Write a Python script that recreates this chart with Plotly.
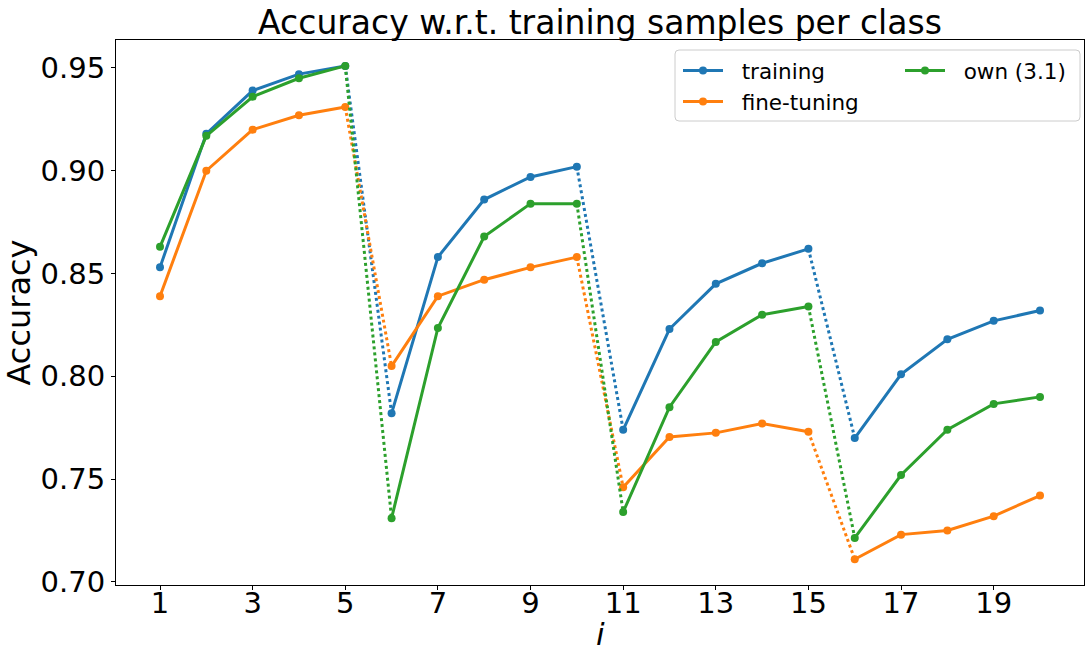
import plotly.graph_objects as go

x_vals = list(range(1, 21))
training = [0.853, 0.918, 0.939, 0.947, 0.951,
            0.782, 0.858, 0.886, 0.897, 0.902,
            0.774, 0.823, 0.845, 0.855, 0.862,
            0.770, 0.801, 0.818, 0.827, 0.832]
fine_tuning = [0.839, 0.900, 0.920, 0.927, 0.931,
               0.805, 0.839, 0.847, 0.853, 0.858,
               0.746, 0.7705, 0.7725, 0.777, 0.773,
               0.711, 0.723, 0.725, 0.732, 0.742]
own = [0.863, 0.917, 0.936, 0.945, 0.951,
       0.731, 0.8235, 0.868, 0.884, 0.884,
       0.734, 0.785, 0.8167, 0.830, 0.834,
       0.7214, 0.752, 0.774, 0.7866, 0.790]

series = [("training", training, "#1f77b4", "legend"),
          ("fine-tuning", fine_tuning, "#ff7f0e", "legend"),
          ("own (3.1)", own, "#2ca02c", "legend2")]
seg = 5
font = "DejaVu Sans, Liberation Sans, sans-serif"
nb = "\u00a0\u00a0"

fig = go.Figure()
for name, vals, color, lg in series:
    for s in range(0, len(x_vals), seg):
        fig.add_trace(go.Scatter(
            x=x_vals[s:s + seg], y=vals[s:s + seg], mode="lines+markers",
            line=dict(color=color, width=3), marker=dict(color=color, size=8),
            name=nb + name, legendgroup=name, showlegend=(s == 0), legend=lg))
for name, vals, color, lg in series:
    for s in range(seg, len(x_vals), seg):
        fig.add_trace(go.Scatter(
            x=x_vals[s - 1:s + 1], y=vals[s - 1:s + 1], mode="lines",
            line=dict(color=color, width=3, dash="dot"),
            name=name, legendgroup=name, showlegend=False, legend=lg))

W, H = 1086, 650
L, R, T, B = 116, 2, 40, 65
pw, ph = W - L - R, H - T - B
def px(xp):
    return (xp - L) / pw
def py(yp):
    return 1 - (yp - T) / ph

# rounded legend frame
x0, x1, y0, y1, r = px(675), px(1080), py(121), py(50), 4
rx, ry = r / pw, r / ph
path = (f"M{x0+rx},{y1} L{x1-rx},{y1} Q{x1},{y1} {x1},{y1-ry} "
        f"L{x1},{y0+ry} Q{x1},{y0} {x1-rx},{y0} L{x0+rx},{y0} "
        f"Q{x0},{y0} {x0},{y0+ry} L{x0},{y1-ry} Q{x0},{y1} {x0+rx},{y1} Z")
fig.add_shape(type="path", xref="paper", yref="paper", path=path,
              line=dict(color="#cccccc", width=1), fillcolor="rgba(255,255,255,0.8)",
              layer="above")

legend_common = dict(font=dict(family=font, size=21.5, color="black"),
                     bgcolor="rgba(0,0,0,0)", borderwidth=0,
                     xref="paper", yref="paper", xanchor="left", yanchor="top",
                     tracegroupgap=0, itemwidth=40)

fig.add_annotation(text="<i>i</i>", xref="paper", yref="paper",
                   x=0.5, y=py(634), xanchor="center", yanchor="middle",
                   showarrow=False, font=dict(family=font, size=31, color="black"))

fig.update_layout(
    width=W, height=H,
    margin=dict(l=L, r=R, t=T, b=B, autoexpand=False),
    paper_bgcolor="white", plot_bgcolor="white",
    font=dict(family=font, color="black"),
    title=dict(text="Accuracy w.r.t. training samples per class",
               x=0.5, xref="paper", xanchor="center",
               y=1 - 22 / H, yref="container", yanchor="middle",
               font=dict(family=font, size=33, color="black")),
    showlegend=True,
    legend=dict(x=px(678), y=py(50), **legend_common),
    legend2=dict(x=px(900), y=py(50), **legend_common),
    xaxis=dict(range=[0.05, 20.95], tickmode="array", automargin=False,
               tickvals=[1, 3, 5, 7, 9, 11, 13, 15, 17, 19],
               ticktext=["1", "3", "5", "7", "9", "11", "13", "15", "17", "19"],
               ticks="outside", ticklen=4, tickwidth=1, tickcolor="black",
               ticklabelstandoff=-12,
               showline=True, linecolor="black", linewidth=1, mirror=True,
               showgrid=False, zeroline=False,
               tickfont=dict(family=font, size=29, color="black")),
    yaxis=dict(range=[0.6985, 0.9636], tickmode="array", automargin=False,
               tickvals=[0.70, 0.75, 0.80, 0.85, 0.90, 0.95],
               ticktext=["0.70", "0.75", "0.80", "0.85", "0.90", "0.95"],
               ticks="outside", ticklen=4, tickwidth=1, tickcolor="black",
               showline=True, linecolor="black", linewidth=1, mirror=True,
               showgrid=False, zeroline=False,
               tickfont=dict(family=font, size=29, color="black"),
               title=dict(text="Accuracy", standoff=8,
                          font=dict(family=font, size=32, color="black"))),
)

fig.write_html("out.html")
